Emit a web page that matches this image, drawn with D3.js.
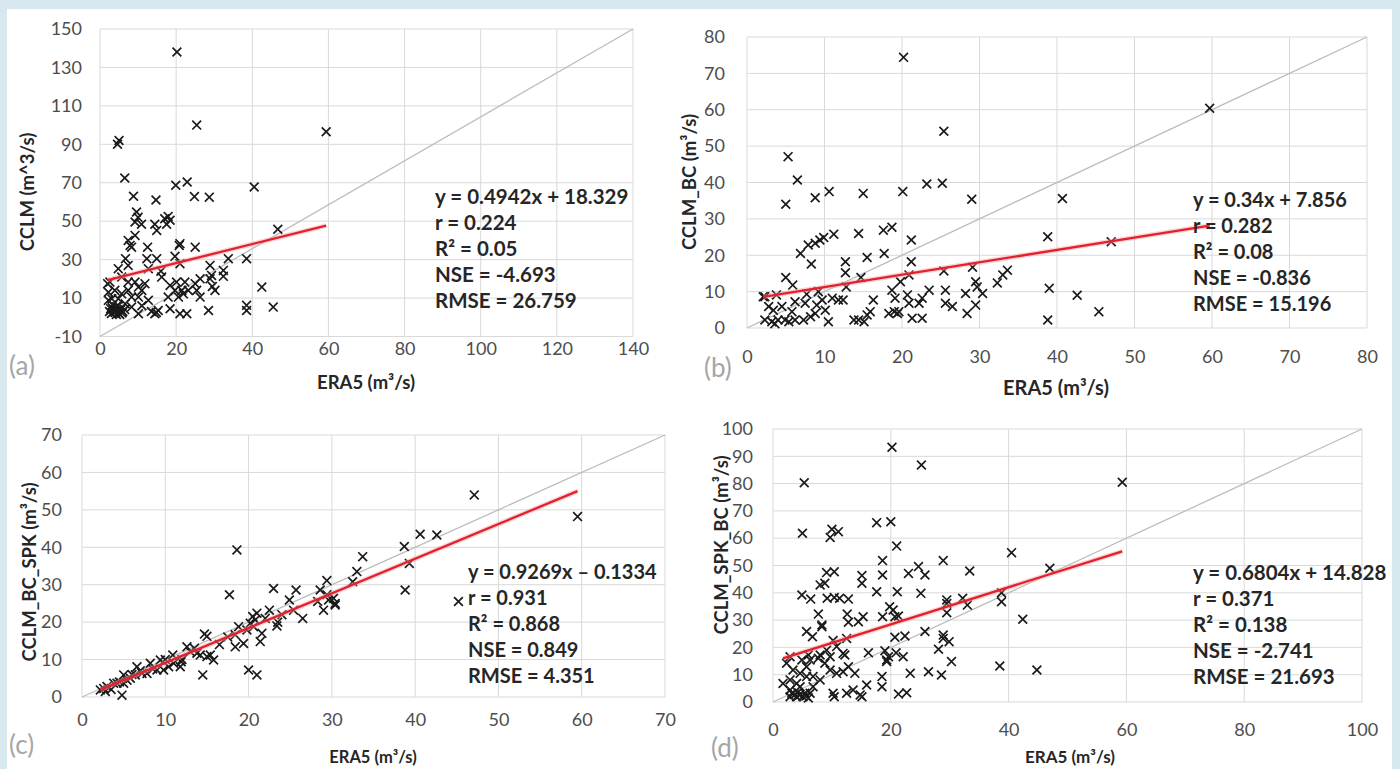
<!DOCTYPE html>
<html><head><meta charset="utf-8">
<script src="https://cdn.jsdelivr.net/npm/d3@7"></script>
<style>
body{margin:0;background:#d7e9ef;}
svg{display:block;font-family:Lato,'Open Sans',sans-serif;}
</style>
</head><body>
<svg id="chart" width="1400" height="769"></svg>
<script>
// ---------------- DATA ----------------
// (a) ERA5 vs CCLM  [ERA5, CCLM]
const pointsA = [
[20.2,138],[25.4,100],[59.4,96.5],[4.6,90],[5.0,92],[6.5,72.5],[8.8,63],[14.7,61],[19.9,68.7],[22.9,70.4],
[24.8,62.8],[28.7,62.5],[40.5,67.8],[46.7,45.8],[9.6,54.8],[10.0,52],[9.2,49.6],[10.9,48.4],[14.4,48.4],[14.9,45.2],
[17.0,51.3],[17.9,52.5],[18.4,50.5],[17.5,48.4],[7.4,40],[7.9,37.4],[8.3,36.5],[9.2,42.6],[12.5,36.5],[21,38.3],
[20.8,37.4],[25,36.5],[19.7,31.7],[6.7,30.5],[7.4,27],[4.8,25.3],[12.3,30.5],[14.9,30.5],[12.7,25.3],[21,27.9],
[28.9,27],[33.7,30.5],[38.5,30.5],[32.4,24.4],[29.3,21.8],[28.9,20],[32.4,21.3],[16.2,20.9],[2.6,18.3],[2.0,17.5],
[5.7,20.9],[7.4,18.3],[9.2,18.3],[11.8,17.5],[10.1,15.7],[11,14],[18.4,16.6],[20.1,18.3],[19.7,14],[21.5,14],
[22.3,18.3],[23.2,14],[25,17.5],[25.4,14],[17.9,10.5],[20.6,10.5],[21.9,12.2],[26.3,10.5],[30.2,14],[42.5,15.7],
[2.2,13],[3.9,14],[5.7,12.2],[7.4,14],[8.3,10.5],[4.8,9.6],[3.1,9.6],[2.2,8.8],[10.1,10.5],[12.7,8.8],
[2.5,3],[3,2],[3.5,4],[4,2.5],[4.5,3.5],[5,2],[5.5,4],[6,3],[3.2,5],[4.2,5.5],
[5.2,1.5],[4.8,6],[10.1,1.8],[14.4,1.8],[15.3,3.5],[14.8,2.5],[18.4,4.4],[21,1.8],[22.8,1.8],[28.5,3.5],
[38.5,6.2],[38.5,3.5],[45.5,5.3],[6.6,7],[8.3,5.3],[11,6],[13.5,3],[29.5,16],[16,24],[26.3,20],
[3.8,3],[4.3,1.5],[5.8,2.2],[2.8,4.5],[6.5,4],[3.3,6.5]
];
// (b) ERA5 vs CCLM_BC
const pointsB = [
[20.2,74.4],[25.4,54.1],[5.3,47.1],[6.5,40.7],[5.0,34],[8.8,35.8],[10.6,37.5],[15,37],[20.1,37.5],[23.2,39.6],
[25.2,39.8],[29,35.4],[59.7,60.4],[40.7,35.6],[38.8,25.1],[47,23.7],[39,10.9],[42.6,9],[45.4,4.5],[38.8,2.2],
[14.4,26],[17.6,26.9],[18.7,27.7],[11.2,25.8],[9.9,24.9],[9.4,24.2],[8.8,23.3],[7.9,22.8],[6.9,20.5],[8.3,17.6],
[21.2,24.2],[15.5,19.4],[17.7,20.5],[12.7,18.2],[12.7,15.2],[21.2,18.2],[5,13.9],[5.9,11.8],[14.7,13.9],[20.9,14.6],
[25.4,15.7],[29.1,16.7],[12.8,11.3],[19.8,12.7],[33.6,15.9],[33,14.6],[32.3,12.4],[29.5,12.7],[29.7,11.3],[30.4,9.5],
[29.5,6.3],[28.2,9.5],[2.1,8.6],[3.8,9.1],[7.7,9.3],[9.2,10],[11.8,7.7],[12.4,7.7],[16.3,7.7],[18.7,10.4],
[19.1,8.2],[20.7,9.1],[20.9,6.8],[19.4,4],[22.2,6.8],[22.6,8.2],[23.5,10.4],[25.6,10.4],[25.6,6.8],[26.5,5.9],
[28.4,4],[21.3,2.7],[22.6,2.7],[18.3,4],[19,4.5],[19.6,4.5],[15.9,4.5],[15.5,3.6],[14.4,2.2],[13.8,2.2],
[15.1,1.7],[10.5,1.7],[10.1,4.9],[9,6.3],[8.8,4],[7.5,6.8],[6.2,7.2],[5.8,4.5],[4.9,2.2],[4,2.2],
[3.2,1.7],[2.3,2.2],[6.2,2.2],[7.3,2.2],[8.2,3.1],[9.7,7.7],[11,8.2],[2.8,5.9],[4.5,5.9],[5.4,1.7],
[3.6,1.2],[2.3,8.6],[3.4,4.9]
];
// (c) ERA5 vs CCLM_BC_SPK
const pointsC = [
[18.6,39.3],[17.7,27.3],[23,29],[25.7,28.6],[29.4,31.1],[28.6,28.6],[29.4,27.3],[30.4,24.6],[29,23.2],[28.3,25.5],
[29.6,25.9],[24.9,25.9],[25.4,23.2],[26.5,21],[33.7,37.5],[33,33.5],[32.5,30.8],[38.7,40.2],[38.8,28.6],[39.3,35.7],
[22.5,23.2],[21,22.4],[20.8,20.6],[20.2,19.7],[19.8,17.9],[20.6,18.8],[21.6,17],[21.4,14.8],[23.4,19],[18.8,18.8],
[18.4,16.6],[19.4,14.3],[18.4,13.4],[20,7.2],[21,5.9],[14.5,5.9],[14.7,16.8],[15,16.2],[15,10.8],[15.4,11.2],
[15.8,9.9],[14.2,11.2],[12.6,13.4],[13,12.1],[13.8,11.7],[11.8,8.1],[11.9,9.4],[10.9,11.2],[9.4,9.9],[9.8,7.2],
[10.4,8.1],[9,7.2],[8.2,9],[7.8,6.3],[6.6,8.1],[6.4,5.9],[7.2,6.3],[5,5.9],[5.4,4.5],[4.2,3.7],
[3.8,3.7],[3,2.8],[2.6,2.3],[2.2,1.9],[5,3.7],[5.8,5],[4.8,0.5],[47.1,54],[59.5,48.2],[40.6,43.5],
[42.6,43.3],[45.2,25.5],[30.2,26.4],[30.4,25],[17.5,16],[16.5,14],[3.5,2],[4.5,4],[8.5,7.5],[10,10],
[11,9],[12,10],[6,6],[7,7],[2.8,1.5],[13.5,13],[22,21],[23.5,20],[24,22],[20.5,21.5]
];
// (d) ERA5 vs CCLM_SPK_BC
const pointsD = [
[20.2,93.3],[25.2,86.8],[5.3,80.3],[5,61.8],[10,63.3],[11.1,62.4],[9.7,60.3],[17.6,65.7],[20,66],[21,57.1],
[40.5,54.7],[18.6,51.8],[18.6,46.5],[28.9,51.8],[24.7,49.6],[25.8,46.5],[23,47.1],[33.4,48],[9.1,47.4],[10.4,47.7],
[8,42.9],[8.8,43.5],[15.1,46.3],[15.1,43.5],[4.9,39.2],[6.4,37.7],[9.2,38],[10.4,38.3],[11.3,38],[12.8,37.7],
[17.6,40.4],[21.1,40.4],[25.1,39.8],[29.5,37.4],[7.7,32.2],[8.3,27.6],[12.6,32.2],[12.8,29.2],[14.5,29.4],[15.3,31.2],
[18.6,31.2],[19.8,34.9],[20.4,33.7],[20.7,31.2],[21.3,31.5],[29.5,36.1],[29.5,32.7],[32.2,38],[33,35.5],[38.8,40],
[38.8,36.7],[42.4,30.3],[5.7,25.8],[6.7,23.9],[8.3,28.2],[10.2,22.5],[12.5,23.3],[20.7,23.7],[22.4,24.2],[25.8,25.8],
[28.9,24.5],[28.9,23.3],[29.9,22.1],[28.1,19.3],[30.3,14.8],[38.5,13.2],[44.8,11.7],[59.3,80.5],[47,49],[11.9,17.8],
[16.2,18],[19,18.8],[19.3,15.4],[19.6,16.6],[20.9,18],[22.1,16.6],[23.3,10.5],[26.4,11.1],[28.6,9.9],[18.5,9.3],
[18.5,5.6],[15.9,6.2],[13.6,4.4],[12.5,3.2],[14.8,2.6],[15.1,1.9],[21.3,2.9],[22.7,3.4],[10.2,3.2],[10.4,1.9],
[12.8,12.9],[11.9,11.1],[13.9,10.5],[8.8,14.2],[9.7,11.7],[10.8,10.5],[9.1,19],[10.8,20.3],[7.7,16],[2.3,14.2],
[3.4,11.7],[4.6,10.5],[5.7,12.9],[6.3,15.4],[2.9,8.1],[4,6.8],[1.7,6.8],[2.9,4.4],[4.6,5.6],[5.4,3.2],
[4,1.9],[2.9,1.9],[5.1,1.9],[6.3,3.2],[6.8,5.6],[8,8.1],[5.7,9.3],[6.8,9.3],[4.5,2.5],[3.7,2.7],
[12.2,17.2],[9.7,16.6],[8,17.2],[6,17.2],[2.9,16.6],[4.9,15.4],[19.3,14.8],
[4.2,3.5],[5.6,2.2],[3.2,3.2],[6,1.5]
];

const panelTags = ["(a)", "(b)", "(c)", "(d)"];
const yTitles = ["CCLM (m^3/s)", "CCLM_BC (m\u00B3/s)", "CCLM_BC_SPK (m\u00B3/s)", "CCLM_SPK_BC (m\u00B3/s)"];
const xTitle = "ERA5 (m\u00B3/s)";
const xTicksA = [0,20,40,60,80,100,120,140];
const yTicksA = [-10,10,30,50,70,90,110,130,150];
const xTicksB = [0,10,20,30,40,50,60,70,80];
const yTicksB = [0,10,20,30,40,50,60,70,80];
const xTicksC = [0,10,20,30,40,50,60,70];
const yTicksC = [0,10,20,30,40,50,60,70];
const xTicksD = [0,20,40,60,80,100];
const yTicksD = [0,10,20,30,40,50,60,70,80,90,100];
const slopes = [0.4942, 0.34, 0.9269, 0.6804];
const intercepts = [18.329, 7.856, -0.1334, 14.828];
const refLines = [[[0,-10],[140,150]], [[0,0],[80,80]], [[0,0],[70,70]], [[0,0],[100,100]]];
const statsA = ["y = 0.4942x + 18.329", "r = 0.224", "R\u00B2 = 0.05", "NSE = -4.693", "RMSE = 26.759"];
const statsB = ["y = 0.34x + 7.856", "r = 0.282", "R\u00B2 = 0.08", "NSE = -0.836", "RMSE = 15.196"];
const statsC = ["y = 0.9269x \u2013 0.1334", "r = 0.931", "R\u00B2 = 0.868", "NSE = 0.849", "RMSE = 4.351"];
const statsD = ["y = 0.6804x + 14.828", "r = 0.371", "R\u00B2 = 0.138", "NSE = -2.741", "RMSE = 21.693"];

// ---------------- LAYOUT ----------------
const layouts = [
 {left:100, right:633, top:29, bottom:336.5, yLabelRight:82, xLabelY:349, yTitleX:28, yTitleY:192, xTitleX:366, xTitleY:383, xTitleSize:18.5, tagX:9, tagY:366, statsX:435, statsY:197, statsSize:20.5},
 {left:747, right:1367, top:37, bottom:328, yLabelRight:725, xLabelY:357, yTitleX:690, yTitleY:182, xTitleX:1056, xTitleY:388, xTitleSize:20, tagX:704, tagY:368, statsX:1193, statsY:200, statsSize:20},
 {left:82, right:665, top:435, bottom:697, yLabelRight:62, xLabelY:720, yTitleX:30, yTitleY:572, xTitleX:373, xTitleY:757, xTitleSize:16.5, tagX:9, tagY:745, statsX:468, statsY:572, statsSize:20},
 {left:773, right:1362, top:429, bottom:702, yLabelRight:753, xLabelY:730, yTitleX:722, yTitleY:545, xTitleX:1070, xTitleY:757, xTitleSize:17, tagX:711, tagY:748, statsX:1193, statsY:573, statsSize:20.5}
];
const panelData = [
 {pts:pointsA, xTicks:xTicksA, yTicks:yTicksA, stats:statsA},
 {pts:pointsB, xTicks:xTicksB, yTicks:yTicksB, stats:statsB},
 {pts:pointsC, xTicks:xTicksC, yTicks:yTicksC, stats:statsC},
 {pts:pointsD, xTicks:xTicksD, yTicks:yTicksD, stats:statsD}
];

// ---------------- DRAW ----------------
const svg = d3.select("#chart");
svg.append("rect").attr("x",0).attr("y",0).attr("width",1400).attr("height",769).attr("fill","#d7e9ef");
svg.append("rect").attr("x",7).attr("y",9).attr("width",1385).attr("height",760).attr("fill","#ffffff");

panelData.forEach((P, i) => {
  const L = layouts[i];
  const g = svg.append("g");
  const xs = d3.scaleLinear().domain(d3.extent(P.xTicks)).range([L.left, L.right]);
  const ys = d3.scaleLinear().domain(d3.extent(P.yTicks)).range([L.bottom, L.top]);

  // gridlines
  g.append("g").selectAll("line").data(P.xTicks).join("line")
    .attr("x1", d => xs(d)).attr("x2", d => xs(d)).attr("y1", L.top).attr("y2", L.bottom)
    .attr("stroke", "#d9d9d9").attr("stroke-width", 1);
  g.append("g").selectAll("line").data(P.yTicks).join("line")
    .attr("x1", L.left).attr("x2", L.right).attr("y1", d => ys(d)).attr("y2", d => ys(d))
    .attr("stroke", "#d9d9d9").attr("stroke-width", 1);

  // axes labels
  const fmt = d => String(d);
  const ya = g.append("g").attr("transform", `translate(${L.yLabelRight},0)`)
    .call(d3.axisLeft(ys).tickValues(P.yTicks).tickSize(0).tickPadding(0).tickFormat(fmt));
  ya.select(".domain").remove();
  ya.attr("font-size", 18).attr("font-family","Lato,'Open Sans',sans-serif");
  ya.selectAll("text").attr("fill","#4d4d4d");
  const xa = g.append("g").attr("transform", `translate(0,${L.xLabelY})`)
    .call(d3.axisBottom(xs).tickValues(P.xTicks).tickSize(0).tickPadding(0).tickFormat(fmt));
  xa.select(".domain").remove();
  xa.attr("font-size", 18).attr("font-family","Lato,'Open Sans',sans-serif");
  xa.selectAll("text").attr("dy","0.35em").attr("fill","#4d4d4d");

  // 1:1 reference line
  const ref = refLines[i];
  g.append("line")
    .attr("x1", xs(ref[0][0])).attr("y1", ys(ref[0][1]))
    .attr("x2", xs(ref[1][0])).attr("y2", ys(ref[1][1]))
    .attr("stroke", "#bcbcbc").attr("stroke-width", 1.3);

  // markers
  const s = 4.4;
  g.append("g").selectAll("path").data(P.pts).join("path")
    .attr("d", d => {
      const cx = xs(d[0]), cy = ys(d[1]);
      return `M${cx-s},${cy-s}L${cx+s},${cy+s}M${cx-s},${cy+s}L${cx+s},${cy-s}`;
    })
    .attr("stroke", "#1a1a1a").attr("stroke-width", 1.7).attr("fill","none");

  // trend line
  const xr = d3.extent(P.pts, d => d[0]);
  const tl = xr.map(v => [v, slopes[i]*v + intercepts[i]]);
  const lineGen = d3.line().x(d => xs(d[0])).y(d => ys(d[1]));
  g.append("path").attr("d", lineGen(tl)).attr("stroke","#f5a3a8").attr("stroke-width",5).attr("opacity",0.45).attr("fill","none");
  g.append("path").attr("d", lineGen(tl)).attr("stroke","#e3202c").attr("stroke-width",2.3).attr("fill","none");

  // stats
  g.append("g").selectAll("text").data(P.stats).join("text")
    .attr("x", L.statsX).attr("y", (d,k) => L.statsY + k*26)
    .attr("dy","0.35em")
    .attr("font-size",L.statsSize).attr("font-weight","bold").attr("fill","#262626")
    .text(d => d);

  // axis titles
  g.append("text").attr("transform", `translate(${L.yTitleX},${L.yTitleY}) rotate(-90)`)
    .attr("text-anchor","middle").attr("dy","0.35em")
    .attr("font-size",18.5).attr("font-weight","bold").attr("fill","#262626")
    .text(yTitles[i]);
  g.append("text").attr("x", L.xTitleX).attr("y", L.xTitleY).attr("dy","0.35em")
    .attr("text-anchor","middle")
    .attr("font-size",L.xTitleSize).attr("font-weight","bold").attr("fill","#262626")
    .text(xTitle);

  // panel tag
  g.append("text").attr("x", L.tagX).attr("y", L.tagY).attr("dy","0.35em")
    .attr("font-size",26).attr("fill","#a6a6a6")
    .text(panelTags[i]);
});
</script>
</body></html>
